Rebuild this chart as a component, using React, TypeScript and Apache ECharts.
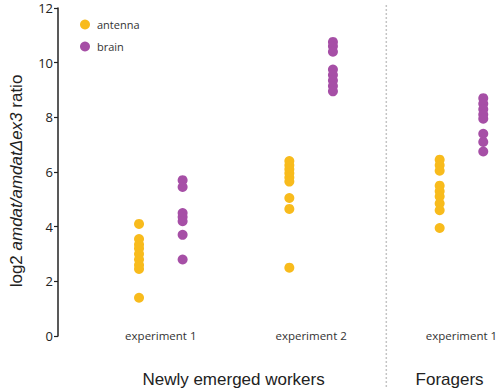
import React, { useEffect, useRef } from "react";
import * as echarts from "echarts";

const categories = ["experiment 1", "experiment 2", "experiment 1"];
const groupLabels = ["Newly emerged workers", "Foragers"];
const seriesNames = ["antenna", "brain"];

// values per category (newly exp1, newly exp2, foragers exp1)
const antennaNewlyExp1 = [4.1, 3.55, 3.35, 3.2, 3.0, 2.8, 2.6, 2.45, 1.4];
const antennaNewlyExp2 = [6.4, 6.25, 6.1, 5.95, 5.8, 5.65, 5.05, 4.65, 2.5];
const antennaForagersExp1 = [6.45, 6.25, 6.05, 5.5, 5.3, 5.1, 4.85, 4.6, 3.95];

const brainNewlyExp1 = [5.7, 5.45, 4.5, 4.35, 4.2, 3.7, 2.8];
const brainNewlyExp2 = [10.76, 10.6, 10.4, 9.75, 9.55, 9.35, 9.15, 8.95];
const brainForagersExp1 = [8.7, 8.5, 8.3, 8.1, 7.95, 7.4, 7.1, 6.75];

const yTicks = [0, 2, 4, 6, 8, 10, 12];

const antennaSets = [antennaNewlyExp1, antennaNewlyExp2, antennaForagersExp1];
const brainSets = [brainNewlyExp1, brainNewlyExp2, brainForagersExp1];

const OFFSET = 0.145;
const X_MIN = -0.684;
const X_MAX = 2.237;
const DIVIDER = 1.5;
const GROUP_POS = [0.484, 1.921];

function build(sets: number[][], off: number) {
  const out: number[][] = [];
  sets.forEach((vals, i) => vals.forEach((v) => out.push([i + off, v])));
  return out;
}

export default function App() {
  const ref = useRef<HTMLDivElement>(null);
  useEffect(() => {
    if (!ref.current) return;
    const chart = echarts.init(ref.current, null, { renderer: "svg" });
    const tickFont = "Open Sans";
    const option: any = {
      animation: false,
      grid: { left: 56, right: 0, top: 8, bottom: 54, containLabel: false },
      legend: {
        orient: "vertical",
        left: 75,
        top: 14,
        itemWidth: 10,
        itemHeight: 10,
        itemGap: 11,
        icon: "circle",
        data: seriesNames,
        textStyle: { fontFamily: tickFont, fontSize: 11, color: "#333", padding: [0, 0, 0, 2] },
      },
      xAxis: [
        {
          type: "value",
          min: X_MIN,
          max: X_MAX,
          axisLine: { show: false },
          axisTick: { show: false },
          splitLine: { show: false },
          axisLabel: {
            customValues: [0, 1, 2],
            formatter: (v: number) => categories[Math.round(v)] ?? "",
            margin: -7,
            fontFamily: tickFont,
            fontSize: 11.5,
            color: "#333",
          },
        },
        {
          type: "value",
          min: X_MIN,
          max: X_MAX,
          position: "bottom",
          axisLine: { show: false },
          axisTick: { show: false },
          splitLine: { show: false },
          axisLabel: {
            customValues: GROUP_POS,
            formatter: (v: number) => (v < 1 ? groupLabels[0] : groupLabels[1]),
            margin: 35,
            fontFamily: "Liberation Sans",
            fontSize: 17,
            color: "#222",
          },
        },
      ],
      yAxis: {
        type: "value",
        min: yTicks[0],
        max: yTicks[yTicks.length - 1],
        interval: 2,
        axisLine: { show: true, onZero: false, lineStyle: { color: "#222", width: 1.5 } },
        axisTick: { show: true, length: 4, lineStyle: { color: "#222", width: 1.2 } },
        splitLine: { show: false },
        axisLabel: { fontFamily: tickFont, fontSize: 13, color: "#222", margin: 5 },
        name: "{n|log2 }{i|amdat/amdatΔex3}{n| ratio}",
        nameLocation: "middle",
        nameGap: 33,
        nameRotate: 90,
        nameTextStyle: {
          fontFamily: "Liberation Sans",
          fontSize: 17,
          color: "#222",
          padding: [0, 18, 0, 0],
          rich: {
            n: { fontFamily: "Liberation Sans", fontSize: 17, color: "#222" },
            i: { fontFamily: "Liberation Sans", fontSize: 17, color: "#222", fontStyle: "italic" },
          },
        },
      },
      series: [
        {
          name: seriesNames[0],
          type: "scatter",
          symbol: "circle",
          symbolSize: 10,
          itemStyle: { color: "#F8BB1C", opacity: 1 },
          data: build(antennaSets, -OFFSET),
        },
        {
          name: seriesNames[1],
          type: "scatter",
          symbol: "circle",
          symbolSize: 10,
          itemStyle: { color: "#A64FA6", opacity: 1 },
          data: build(brainSets, OFFSET),
        },
      ],
    };
    chart.setOption(option);
    const px = chart.convertToPixel({ xAxisIndex: 0 }, DIVIDER) as number;
    chart.setOption({
      graphic: [
        {
          type: "line",
          shape: { x1: px, y1: 5, x2: px, y2: 388 },
          style: { stroke: "#c4c4c4", lineWidth: 1.5, lineDash: [2, 2] },
          silent: true,
        },
      ],
    });
    return () => chart.dispose();
  }, []);
  return (
    <div
      ref={ref}
      style={{ position: "absolute", left: 0, top: 0, width: 500, height: 390, background: "#fff" }}
    />
  );
}
